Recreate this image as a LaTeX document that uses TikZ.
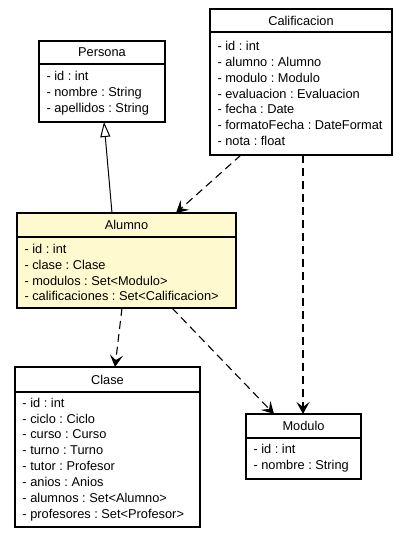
\documentclass[tikz,border=0pt]{standalone}
\usepackage{fontspec}
\setmainfont{Liberation Sans}
\usetikzlibrary{arrows.meta, positioning, calc}
\definecolor{UML_Yellow}{HTML}{FFF9D0}

\begin{document}
\begin{tikzpicture}[
    x=1pt, y=-1pt,
    font=\fontsize{12.8}{15.9}\selectfont\frenchspacing,
    classhead/.style={
        draw=black,
        fill=white,
        line width=1.1pt,
        outer sep=0pt,
        inner sep=0pt,
        minimum height=23pt,
        anchor=north west
    },
    classbody/.style={
        draw=black,
        fill=white,
        line width=1.1pt,
        outer sep=0pt,
        inner xsep=7.5pt,
        inner ysep=3pt,
        align=flush left
    },
    dep/.style={draw=black, line width=1.1pt, dash pattern=on 8pt off 5pt,
        -{Stealth[length=12pt, width=13pt, inset=5pt]}},
    inherit/.style={draw=black, line width=1pt, -{Triangle[open, length=15pt, width=10pt]}}
]
\useasboundingbox (0,0) rectangle (413,539);

% classes
\node[classhead, minimum width=126pt] (personaHead) at (39,41) {Persona};
\node[classbody, text width=111pt, minimum height=58pt, below=0pt of personaHead] (personaBody)
    {- id : int\\- nombre : String\\- apellidos : String};

\node[classhead, minimum width=182pt] (calHead) at (210,9) {Calificacion};
\node[classbody, text width=167pt, minimum height=123pt, below=0pt of calHead] (calBody)
    {- id : int\\- alumno : Alumno\\- modulo : Modulo\\- evaluacion : Evaluacion\\- fecha : Date\\- formatoFecha : DateFormat\\- nota : float};

\node[classhead, fill=UML_Yellow, minimum width=219pt, minimum height=24pt] (alumnoHead) at (17,213) {Alumno};
\node[classbody, fill=UML_Yellow, text width=204pt, minimum height=71pt, below=0pt of alumnoHead] (alumnoBody)
    {- id : int\\- clase : Clase\\- modulos : Set<Modulo>\\- calificaciones : Set<Calificacion>};

\node[classhead, minimum width=185pt, minimum height=25pt] (claseHead) at (15,367) {Clase};
\node[classbody, text width=170pt, minimum height=135pt, below=0pt of claseHead] (claseBody)
    {- id : int\\- ciclo : Ciclo\\- curso : Curso\\- turno : Turno\\- tutor : Profesor\\- anios : Anios\\- alumnos : Set<Alumno>\\- profesores : Set<Profesor>};

\node[classhead, minimum width=115pt, minimum height=24pt] (moduloHead) at (246,414) {Modulo};
\node[classbody, text width=100pt, minimum height=41pt, below=0pt of moduloHead] (moduloBody)
    {- id : int\\- nombre : String};

% relations
\draw[inherit] ([xshift=95pt]alumnoHead.north west) -- ([xshift=65pt]personaBody.south west);
\draw[dep] ([xshift=31pt]calBody.south west) -- ([xshift=159pt]alumnoHead.north west);
\draw[dep] ([xshift=93pt]calBody.south west) -- ([xshift=57pt]moduloHead.north west);
\draw[dep] ([xshift=105pt]alumnoBody.south west) -- ([xshift=100pt]claseHead.north west);
\draw[dep] ([xshift=155pt]alumnoBody.south west) -- ([xshift=28pt]moduloHead.north west);

\end{tikzpicture}
\end{document}
